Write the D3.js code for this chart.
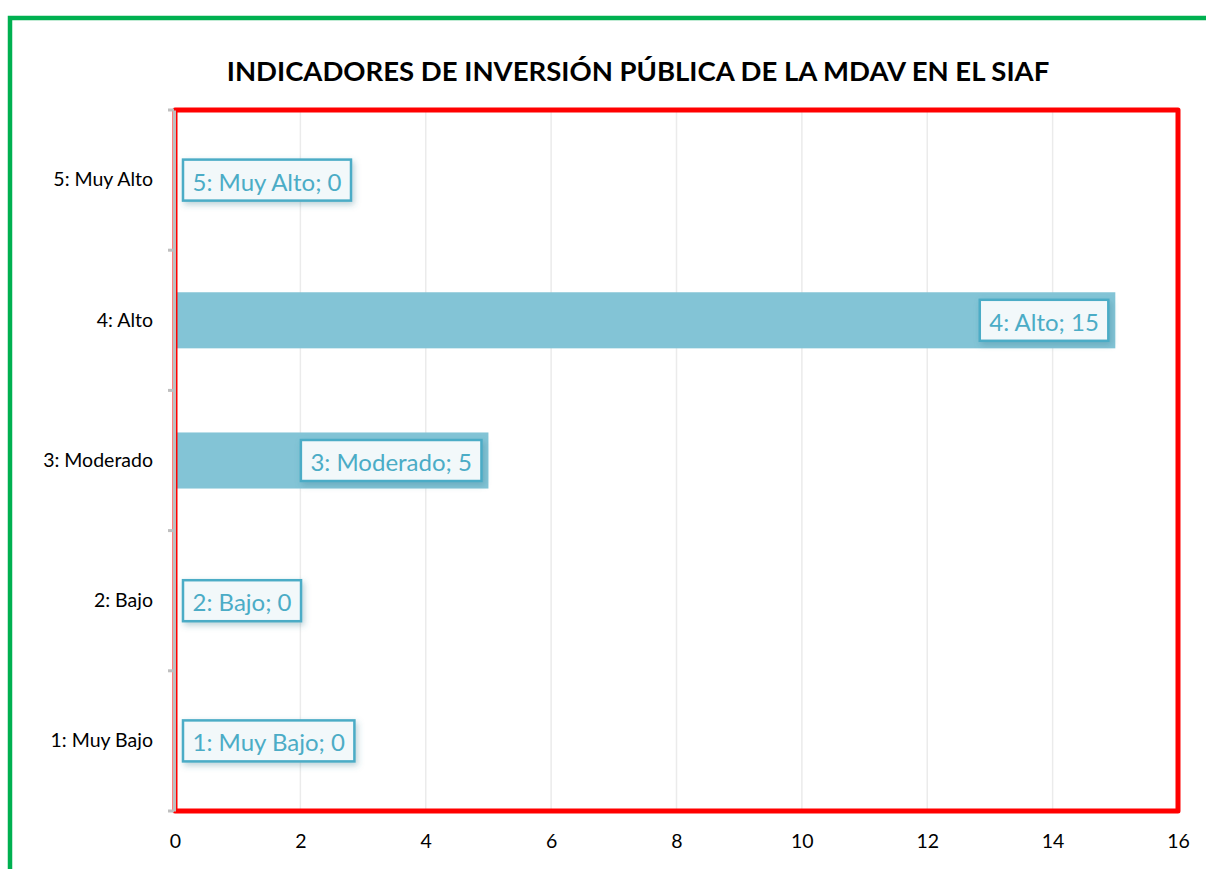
<!DOCTYPE html>
<html>
<head>
<meta charset="utf-8">
<script src="https://cdn.jsdelivr.net/npm/d3@7"></script>
<style>
  body { margin: 0; background: #fff; }
  svg { display: block; font-family: Lato, "Open Sans", sans-serif; }
</style>
</head>
<body>
<div id="chart"></div>
<script>
const categories = ["1: Muy Bajo", "2: Bajo", "3: Moderado", "4: Alto", "5: Muy Alto"]
const values = [0, 0, 5, 15, 0]
const xTicks = [0, 2, 4, 6, 8, 10, 12, 14, 16]
const title = "INDICADORES DE INVERSIÓN PÚBLICA DE LA MDAV EN EL SIAF"

const W = 1206, H = 869
const plot = { left: 175, right: 1178, top: 110, bottom: 811 }

const svg = d3.select("#chart").append("svg")
  .attr("width", W).attr("height", H)

const defs = svg.append("defs")
const shadow = defs.append("filter").attr("id", "shadow")
  .attr("x", "-20%").attr("y", "-40%").attr("width", "150%").attr("height", "200%")
shadow.append("feDropShadow")
  .attr("dx", 2).attr("dy", 3).attr("stdDeviation", 3)
  .attr("flood-color", "#3a7f91").attr("flood-opacity", 0.35)

// outer green frame
svg.append("rect")
  .attr("x", 10).attr("y", 18).attr("width", W + 20).attr("height", H + 20)
  .attr("fill", "none").attr("stroke", "#00b050").attr("stroke-width", 4.5)

svg.append("text")
  .attr("x", 638).attr("y", 81)
  .attr("text-anchor", "middle")
  .attr("font-size", 27.5).attr("font-weight", "bold").attr("fill", "#000")
  .text(title)

const x = d3.scaleLinear().domain([0, 16]).range([plot.left, plot.right])
const y = d3.scaleBand().domain(categories.slice().reverse())
  .range([plot.top, plot.bottom]).paddingInner(0.6).paddingOuter(0.3)

// gridlines
svg.append("g").selectAll("line").data(xTicks.slice(1, -1)).join("line")
  .attr("x1", d => x(d)).attr("x2", d => x(d))
  .attr("y1", plot.top).attr("y2", plot.bottom)
  .attr("stroke", "#ebebeb").attr("stroke-width", 1.5)

// bars
svg.append("g").selectAll("rect").data(categories).join("rect")
  .attr("x", x(0))
  .attr("y", d => y(d))
  .attr("width", (d, i) => x(values[i]) - x(0))
  .attr("height", y.bandwidth())
  .attr("fill", "#83c4d6")

// red plot border
svg.append("rect")
  .attr("x", plot.left).attr("y", plot.top)
  .attr("width", plot.right - plot.left).attr("height", plot.bottom - plot.top)
  .attr("fill", "none").attr("stroke", "#ff0000").attr("stroke-width", 5)
  .attr("stroke-linejoin", "round")

// y axis
const yAxis = d3.axisLeft(y).tickSize(0).tickPadding(20)
const yg = svg.append("g").attr("transform", `translate(${plot.left - 1},0)`).call(yAxis)
yg.select(".domain").attr("stroke", "#bfbfbf").attr("stroke-width", 3)
yg.selectAll("text").attr("font-size", 19.5).attr("fill", "#000").attr("font-family", "Lato, sans-serif")
  .attr("dx", -1)
const step = (plot.bottom - plot.top) / categories.length
yg.selectAll(".sep").data(d3.range(categories.length + 1)).join("line")
  .attr("x1", -6).attr("x2", 0)
  .attr("y1", d => plot.top + d * step).attr("y2", d => plot.top + d * step)
  .attr("stroke", "#bfbfbf").attr("stroke-width", 3)

// x axis labels
const xAxis = d3.axisBottom(x).tickValues(xTicks).tickSize(0).tickPadding(23)
const xg = svg.append("g").attr("transform", `translate(0,${plot.bottom})`).call(xAxis)
xg.select(".domain").remove()
xg.selectAll("text").attr("font-size", 19.5).attr("fill", "#000").attr("font-family", "Lato, sans-serif")

// data labels
const labels = svg.append("g")
categories.forEach((c, i) => {
  const g = labels.append("g")
  const t = g.append("text")
    .attr("font-size", 24).attr("fill", "#4bacc6")
    .attr("dominant-baseline", "central")
    .text(`${c}; ${values[i]}`)
  const tw = t.node().getComputedTextLength()
  const bw = tw + 19, bh = 41
  const cy = y(c) + y.bandwidth() / 2
  const bx = values[i] === 0 ? x(0) + 8 : x(values[i]) - 7 - bw
  g.insert("rect", "text")
    .attr("x", bx).attr("y", cy - bh / 2).attr("width", bw).attr("height", bh)
    .attr("fill", "#f2f8fa").attr("stroke", "#4bacc6").attr("stroke-width", 2.5)
    .attr("filter", "url(#shadow)")
  t.attr("x", bx + 9.5).attr("y", cy + 1)
})
</script>
</body>
</html>
